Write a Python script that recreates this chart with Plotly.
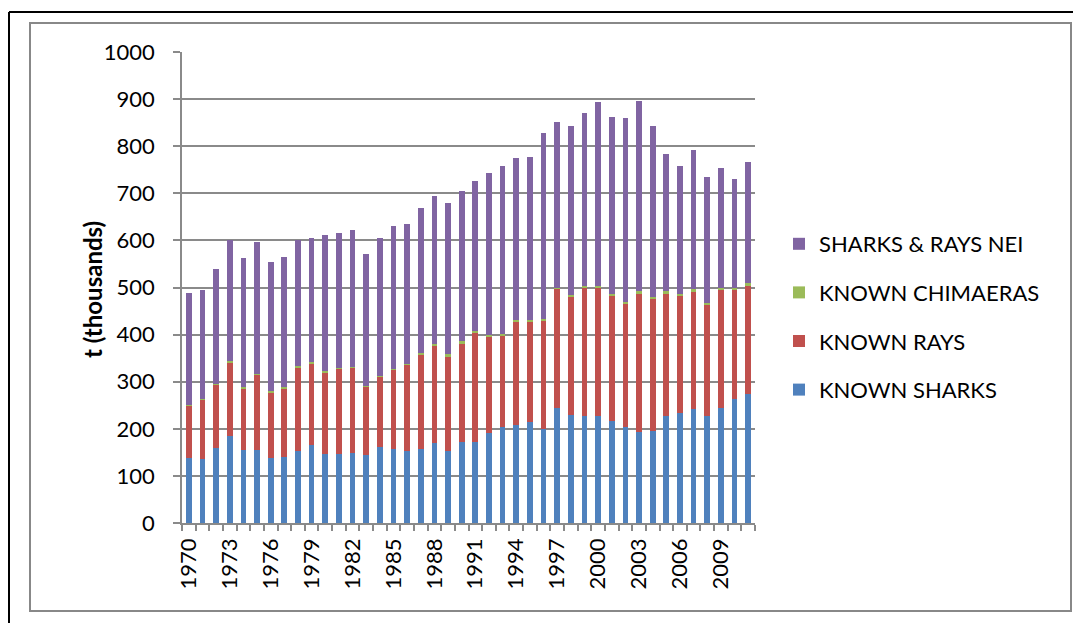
import plotly.graph_objects as go

years = list(range(1970, 2012))
known_sharks = [139, 135, 160, 184, 155, 156, 138, 140, 152, 166, 147, 146, 149, 144,
                161, 157, 152, 157, 169, 153, 172, 172, 191, 203, 208, 215, 199, 245,
                229, 228, 228, 217, 204, 194, 196, 228, 233, 243, 228, 245, 263, 273]
known_rays = [110, 127, 134, 156, 131, 159, 139, 146, 178, 173, 173, 182, 181, 145,
              150, 168, 184, 201, 208, 200, 209, 231, 203, 195, 219, 213, 231, 252,
              250, 273, 271, 264, 261, 293, 279, 259, 250, 248, 234, 249, 231, 231]
known_chimaeras = [2, 2, 2, 3, 2, 2, 3, 3, 4, 3, 3, 2, 2, 2, 2, 3, 2, 3, 4, 5, 5, 5,
                   5, 4, 4, 3, 3, 3, 5, 3, 4, 5, 5, 6, 5, 5, 4, 5, 6, 5, 5, 6]
sharks_rays_nei = [237, 231, 243, 257, 274, 280, 274, 275, 267, 264, 288, 285, 291, 281,
                   293, 303, 296, 307, 314, 322, 319, 319, 345, 356, 343, 347, 396, 352,
                   359, 366, 390, 376, 389, 403, 363, 291, 271, 296, 267, 255, 232, 257]
x_tick_labels = [str(y) for y in range(1970, 2012, 3)]
y_ticks = list(range(0, 1001, 100))

series = [
    ("KNOWN SHARKS", known_sharks, "#4F81BD"),
    ("KNOWN RAYS", known_rays, "#C0504D"),
    ("KNOWN CHIMAERAS", known_chimaeras, "#9BBB59"),
    ("SHARKS & RAYS NEI", sharks_rays_nei, "#8064A2"),
]

# page body has an 8px margin; figure coordinates = screen - 8
OFF = 8
W, H = 1081 - OFF, 623 - OFF
ML, MT = 182 - OFF, 52 - OFF
PLOT_R, PLOT_B = 755 - OFF, 523 - OFF
MR, MB = W - PLOT_R, H - PLOT_B
PW, PH = PLOT_R - ML, PLOT_B - MT


def px(xs):
    return (xs - OFF - ML) / PW


def py(ys):
    return (PLOT_B - (ys - OFF)) / PH


fig = go.Figure()
n = len(series)
for i, (name, vals, col) in enumerate(series):
    fig.add_trace(go.Bar(x=years, y=vals, name=name, marker_color=col,
                         marker_line_width=0, legendgroup=f"g{i}",
                         legendrank=1000 + (n - i)))

GRID = "#8a8a8a"
FONT = "Lato, 'Open Sans', sans-serif"

fig.update_layout(
    width=W, height=H,
    margin=dict(l=ML, r=MR, t=MT, b=MB, autoexpand=False),
    barmode="stack", bargap=0.58,
    paper_bgcolor="white", plot_bgcolor="white",
    font=dict(family=FONT, size=22, color="black"),
    showlegend=True,
    legend=dict(x=px(779), y=py(223), xanchor="left", yanchor="top",
                traceorder="grouped", tracegroupgap=17,
                font=dict(family=FONT, size=22, color="black"),
                bgcolor="rgba(0,0,0,0)"),
    xaxis=dict(range=[1969.5, 2011.5], tickmode="array",
               tickvals=[int(t) for t in x_tick_labels], ticktext=x_tick_labels,
               tickangle=-90, ticks="outside", ticklen=0, ticklabelstandoff=5,
               showgrid=False, showline=True, linecolor=GRID, linewidth=1.5,
               zeroline=False,
               minor=dict(ticks="outside", tick0=1969.5, dtick=1, ticklen=6,
                          tickcolor=GRID, tickwidth=1.5, showgrid=False),
               tickfont=dict(family=FONT, size=22)),
    yaxis=dict(range=[0, 1000], tickmode="array", tickvals=y_ticks,
               ticks="outside", ticklen=7, tickcolor=GRID, tickwidth=1.5,
               showgrid=True, gridcolor=GRID, gridwidth=1.5,
               showline=True, linecolor=GRID, linewidth=1.5, zeroline=False,
               tickfont=dict(family=FONT, size=22), ticklabelstandoff=14),
)

fig.add_annotation(text="<b>t (thousands)</b>", xref="paper", yref="paper",
                   x=px(92), y=py(290), xanchor="center", yanchor="middle",
                   textangle=-90, showarrow=False,
                   font=dict(family=FONT, size=24, color="black"))

# outer black frame lines and inner gray box
fig.add_shape(type="line", xref="paper", yref="paper",
              x0=px(9), x1=px(1085), y0=py(12), y1=py(12),
              line=dict(color="black", width=2))
fig.add_shape(type="line", xref="paper", yref="paper",
              x0=px(9), x1=px(9), y0=py(12), y1=py(627),
              line=dict(color="black", width=2))
fig.add_shape(type="rect", xref="paper", yref="paper",
              x0=px(30), x1=px(1071), y0=py(23), y1=py(611),
              line=dict(color="#888888", width=2), layer="below")

fig.write_html("out.html")
